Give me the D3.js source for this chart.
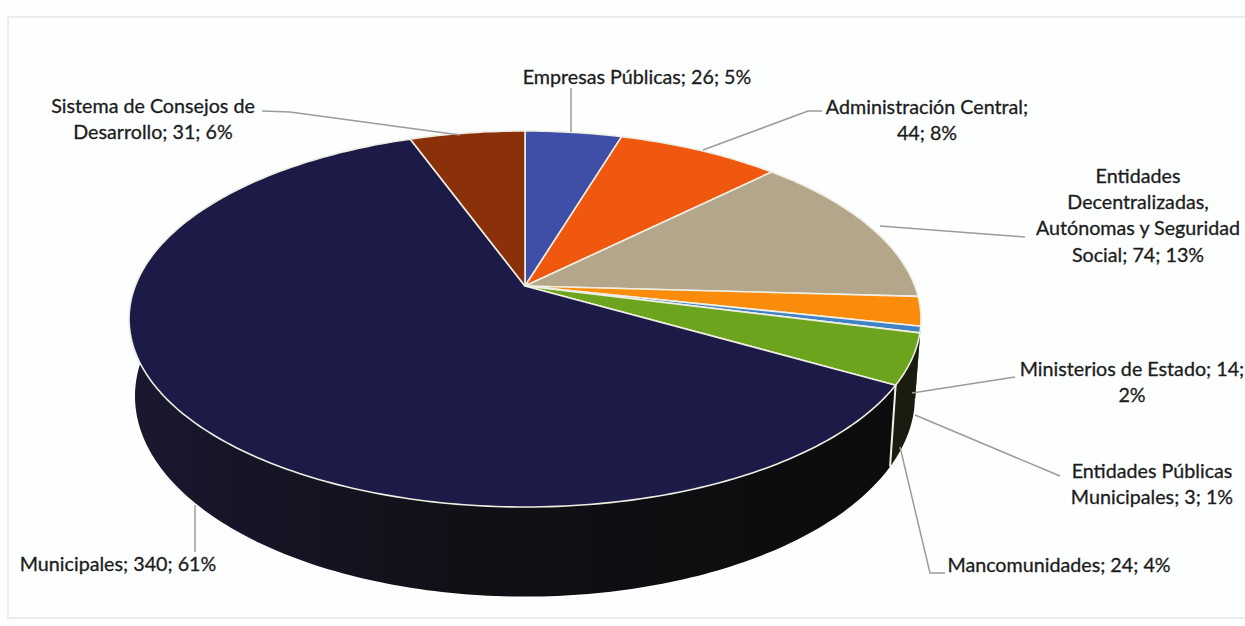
<!DOCTYPE html>
<html>
<head>
<meta charset="utf-8">
<script src="https://cdn.jsdelivr.net/npm/d3@7"></script>
<style>
  html, body { margin: 0; padding: 0; background: #fdfefe; overflow: hidden; }
  text { font-family: Lato, "Open Sans", sans-serif; font-size: 19.7px; fill: #1c1c1c; stroke: #1c1c1c; stroke-width: 0.3px; text-anchor: middle; }
</style>
</head>
<body>
<script>
// values
var categories = ["Empresas Públicas", "Administración Central", "Entidades Decentralizadas, Autónomas y Seguridad Social",
    "Ministerios de Estado", "Entidades Públicas Municipales", "Mancomunidades", "Municipales", "Sistema de Consejos de Desarrollo"];
var values = [26, 44, 74, 14, 3, 24, 340, 31];
var percents = [5, 8, 13, 2, 1, 4, 61, 6];
var topColors = ["#3f4fa8", "#f0570f", "#b4a68b", "#fb8c0b", "#3f82c6", "#6ca51d", "#1c1b48", "#8a300b"];
var wallColors = ["#1c2040", "#3a1a08", "#2a2620", "#2c1c06", "#14202c", "#1b1c10", "url(#muniWall)", "#200e06"];

// label text is wrapped by hand like the original
var labelLines = [
    ["Empresas Públicas; 26; 5%"],
    ["Administración Central;", "44; 8%"],
    ["Entidades", "Decentralizadas,", "Autónomas y Seguridad", "Social; 74; 13%"],
    ["Ministerios de Estado; 14;", "2%"],
    ["Entidades Públicas", "Municipales; 3; 1%"],
    ["Mancomunidades; 24; 4%"],
    ["Municipales; 340; 61%"],
    ["Sistema de Consejos de", "Desarrollo; 31; 6%"]
];
var labelX = [637, 927, 1138, 1132, 1152, 1059, 118, 153];
var labelY = [84, 114, 183, 376, 478, 572, 571, 113];

// leader lines, start is on the pie edge
var leaders = [
    [[571, 132], [571, 88]],
    [[703, 150], [808, 111], [822, 111]],
    [[880, 226], [1025, 237]],
    [[912, 393], [1015, 377]],
    [[915, 415], [1060, 476]],
    [[900, 447], [930, 573], [945, 573]],
    [[195, 505], [195, 552]],
    [[460, 135], [290, 112], [262, 111]]
];

var w = 1245;
var h = 626;

// the pie lies tilted, so the far half is squeezed by perspective
var cx = 525;
var cy = 286;
var radius = 389.8;
var tilt = 182.2;
var persp = 0.1755;

// bottom edge of the wall
var wallDrop = 75;
var wallGrow = 1.066;
var wallShrink = 0.985;

var xScale = d3.scaleLinear().domain([-1, 1]).range([cx - radius, cx + radius]);
var yScale = d3.scaleLinear().domain([-1, 1]).range([cy - tilt, cy + tilt]);

function rim(a) {
    var u = Math.sin(a), v = -Math.cos(a);
    var d = 1 - persp * v;
    return [xScale(u / d), yScale(v / d)];
}

function rimBottom(a) {
    var p = rim(a);
    return [cx + (p[0] - cx) * wallShrink, cy + (p[1] - cy) * wallGrow + wallDrop];
}

function sample(a0, a1) {
    var n = Math.max(2, Math.ceil(Math.abs(a1 - a0) * 60));
    return d3.range(n + 1).map(function (i) { return a0 + (a1 - a0) * i / n; });
}

var pie = d3.pie().sort(null).value(function (d) { return d; });
var arcs = pie(values);
var line = d3.line();

var svg = d3.select("body").append("svg")
    .attr("width", w)
    .attr("height", h)
    .style("display", "block");

// wall goes from navy on the left to nearly black on the right
var grad = svg.append("defs").append("linearGradient")
    .attr("id", "muniWall");
grad.append("stop").attr("offset", "0%").attr("stop-color", "#191830");
grad.append("stop").attr("offset", "45%").attr("stop-color", "#101016");
grad.append("stop").attr("offset", "100%").attr("stop-color", "#0c0c0c");

// chart frame, right side runs off the scan
svg.append("path")
    .attr("d", line([[1245, 17], [8, 17], [8, 618], [1245, 618]]))
    .attr("fill", "none")
    .attr("stroke", "#eaebeb")
    .attr("stroke-width", 2);

// walls first, the top face covers what is behind
var walls = svg.append("g");
arcs.forEach(function (d, i) {
    var ang = sample(d.startAngle, d.endAngle);
    var pts = ang.map(rim).concat(ang.slice().reverse().map(rimBottom));
    walls.append("path")
        .attr("d", line(pts) + "Z")
        .attr("fill", wallColors[i]);
});

// seam on the wall between Mancomunidades and Municipales
var seam = arcs[5].endAngle;
svg.append("path")
    .attr("d", line([rim(seam), rimBottom(seam)]))
    .attr("stroke", "#f1f1ea")
    .attr("stroke-width", 2);

// top face
svg.append("g").selectAll("path")
    .data(arcs)
    .enter()
    .append("path")
    .attr("d", function (d) {
        return line([[cx, cy]].concat(sample(d.startAngle, d.endAngle).map(rim))) + "Z";
    })
    .attr("fill", function (d, i) { return topColors[i]; })
    .attr("stroke", "#efeee2")
    .attr("stroke-width", 1.6)
    .attr("stroke-linejoin", "round");

svg.append("g").selectAll("path")
    .data(leaders)
    .enter()
    .append("path")
    .attr("d", function (d) { return line(d); })
    .attr("fill", "none")
    .attr("stroke", "#9b9b9b")
    .attr("stroke-width", 1.5);

var labels = svg.append("g").selectAll("text")
    .data(labelLines)
    .enter()
    .append("text")
    .attr("y", function (d, i) { return labelY[i]; });

labels.selectAll("tspan")
    .data(function (d, i) { return d.map(function (t) { return { t: t, x: labelX[i] }; }); })
    .enter()
    .append("tspan")
    .attr("x", function (d) { return d.x; })
    .attr("dy", function (d, i) { return i ? 26.2 : 0; })
    .text(function (d) { return d.t; });
</script>
</body>
</html>
